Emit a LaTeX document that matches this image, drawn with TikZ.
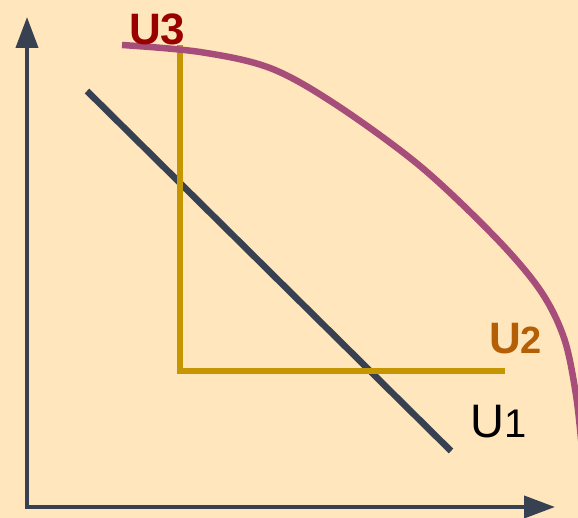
\documentclass[tikz,border=0pt]{standalone}
\usepackage{fontspec}
\setmainfont{Liberation Sans}
\usetikzlibrary{arrows.meta}
\definecolor{bg}{HTML}{FFE6BC}
\definecolor{axiscol}{HTML}{374152}
\definecolor{goldcol}{HTML}{C69600}
\definecolor{purpcol}{HTML}{A64D79}
\definecolor{redlab}{HTML}{990000}
\definecolor{orlab}{HTML}{B45F06}
\tikzset{
  axis/.style={draw=axiscol, line width=4pt, -{Triangle[length=31pt,width=22pt]}},
  curveline/.style={line width=6.5pt},
  lab/.style={inner sep=0pt, anchor=base west},
}
\begin{document}
\begin{tikzpicture}[x=1pt,y=-1pt]
\useasboundingbox (0,0) rectangle (578,518);
\fill[bg] (0,0) rectangle (578,518);
\begin{scope}
\clip (0,0) rectangle (578,518);
% axes
\coordinate (O) at (27,507);
\coordinate (ytop) at (27,17);
\coordinate (xend) at (555,507);
\draw[axis] ([yshift=-2pt]O) -- (ytop);
\draw[axis] ([xshift=-2pt]O) -- (xend);
% U1 line
\coordinate (a1) at (87,91);
\coordinate (b1) at (451,451);
\draw[curveline, draw=axiscol] (a1) -- (b1);
% U2 corner
\coordinate (a2) at (180,45);
\coordinate (c2) at (180,371);
\coordinate (b2) at (505,371);
\draw[curveline, draw=goldcol] (a2) -- (c2) -- (b2);
% U3 curve
\draw[curveline, draw=purpcol] plot[smooth, tension=0.55] coordinates {(122,45) (200,52) (270,68) (335,104) (420,166) (495,237) (540,290) (564,338) (576,395) (582,450)};
\end{scope}
% labels
\node[lab, text=redlab, font=\bfseries\fontsize{44}{44}\selectfont] (u3) at (129,45) {U3};
\node[lab, text=orlab, font=\bfseries\fontsize{44}{44}\selectfont] (u2) at (489,353) {U\fontsize{38}{38}\selectfont 2};
\node[lab, text=black, font=\fontsize{47}{47}\selectfont] (u1) at (470,437) {U\fontsize{40}{40}\selectfont 1};
\end{tikzpicture}
\end{document}
